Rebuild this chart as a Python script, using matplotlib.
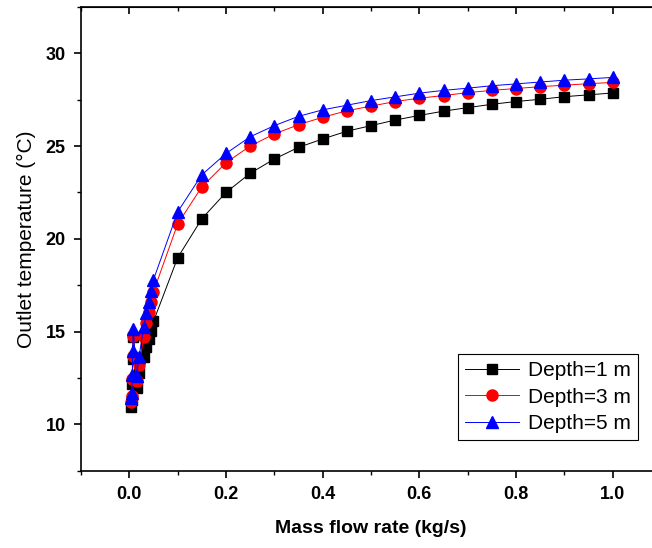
import numpy as np
import matplotlib.pyplot as plt
from matplotlib.ticker import MultipleLocator

# mass flow rate (kg/s), shared by all three depths
flow = [0.004, 0.005, 0.006, 0.007, 0.008, 0.015, 0.02, 0.03, 0.035, 0.04, 0.045, 0.05,
        0.1, 0.15, 0.2, 0.25, 0.3, 0.35, 0.4, 0.45, 0.5, 0.55, 0.6, 0.65, 0.7, 0.75,
        0.8, 0.85, 0.9, 0.95, 1.0]

# outlet temperature (C)
depth_1 = [10.95, 11.3, 12.2, 13.5, 14.7, 11.95, 12.75, 13.65, 14.15, 14.6, 15.05, 15.55,
           18.98, 21.08, 22.5, 23.53, 24.3, 24.93, 25.38, 25.8, 26.1, 26.4, 26.65, 26.88,
           27.07, 27.25, 27.4, 27.52, 27.66, 27.76, 27.86]
depth_3 = [11.2, 11.55, 12.45, 13.7, 14.75, 12.35, 13.2, 14.7, 15.45, 16.05, 16.6, 17.15,
           20.8, 22.8, 24.1, 25.0, 25.65, 26.15, 26.55, 26.9, 27.15, 27.4, 27.58, 27.72,
           27.88, 28.0, 28.1, 28.2, 28.28, 28.36, 28.43]
depth_5 = [11.4, 11.7, 12.65, 13.95, 15.15, 12.6, 13.65, 15.25, 16.0, 16.6, 17.2, 17.8,
           21.45, 23.45, 24.6, 25.5, 26.1, 26.6, 26.95, 27.2, 27.45, 27.65, 27.85, 28.0,
           28.12, 28.25, 28.35, 28.45, 28.55, 28.62, 28.7]

labels = ['Depth=1 m', 'Depth=3 m', 'Depth=5 m']

plt.rcParams['font.family'] = ['Liberation Sans', 'DejaVu Sans']

fig = plt.figure(figsize=(6.52, 5.48), dpi=100)
ax = fig.add_axes([81 / 652, 1 - 470.7 / 548, 580 / 652, (470.7 - 6.9) / 548])

ax.plot(flow, depth_1, color='black', marker='s', markersize=7.5, linewidth=0.7, label=labels[0])
ax.plot(flow, depth_3, color='red', marker='o', markersize=8, linewidth=0.7, label=labels[1])
ax.plot(flow, depth_5, color='blue', marker='^', markersize=9, linewidth=0.7, label=labels[2])

ax.set_xlim(-0.1, 1.1)
ax.set_ylim(7.5, 32.5)
ax.xaxis.set_major_locator(MultipleLocator(0.2))
ax.xaxis.set_minor_locator(MultipleLocator(0.1))
ax.yaxis.set_major_locator(MultipleLocator(5))
ax.yaxis.set_minor_locator(MultipleLocator(2.5))
ax.xaxis.set_major_formatter(plt.FormatStrFormatter('%.1f'))

ax.tick_params(which='major', direction='out', length=5, width=1.2, labelsize=13, pad=6)
ax.tick_params(which='minor', direction='out', length=3, width=1.0)
for lab in ax.get_xticklabels() + ax.get_yticklabels():
    lab.set_fontweight('bold')

# inward ticks on top and right like origin plots
top = ax.secondary_xaxis('top')
top.xaxis.set_major_locator(MultipleLocator(0.2))
top.xaxis.set_minor_locator(MultipleLocator(0.1))
top.tick_params(which='major', direction='in', length=5, width=1.2, labeltop=False)
top.tick_params(which='minor', direction='in', length=3, width=1.0)
right = ax.secondary_yaxis('right')
right.yaxis.set_major_locator(MultipleLocator(5))
right.yaxis.set_minor_locator(MultipleLocator(2.5))
right.tick_params(which='major', direction='in', length=5, width=1.2, labelright=False)
right.tick_params(which='minor', direction='in', length=3, width=1.0)

for s in ax.spines.values():
    s.set_linewidth(1.2)

ax.set_xlabel('Mass flow rate (kg/s)', fontsize=14, fontweight='bold', labelpad=12)
ax.set_ylabel('Outlet temperature (\u00b0C)', fontsize=15, labelpad=7)

leg = ax.legend(loc='lower right', bbox_to_anchor=(0.96, 0.066), fontsize=15,
                fancybox=False, framealpha=1, edgecolor='black',
                handlelength=2.6, borderpad=0.35, labelspacing=0.35, handletextpad=0.4,
                borderaxespad=0)
leg.get_frame().set_linewidth(0.8)

fig.savefig('out.png', dpi=100)
